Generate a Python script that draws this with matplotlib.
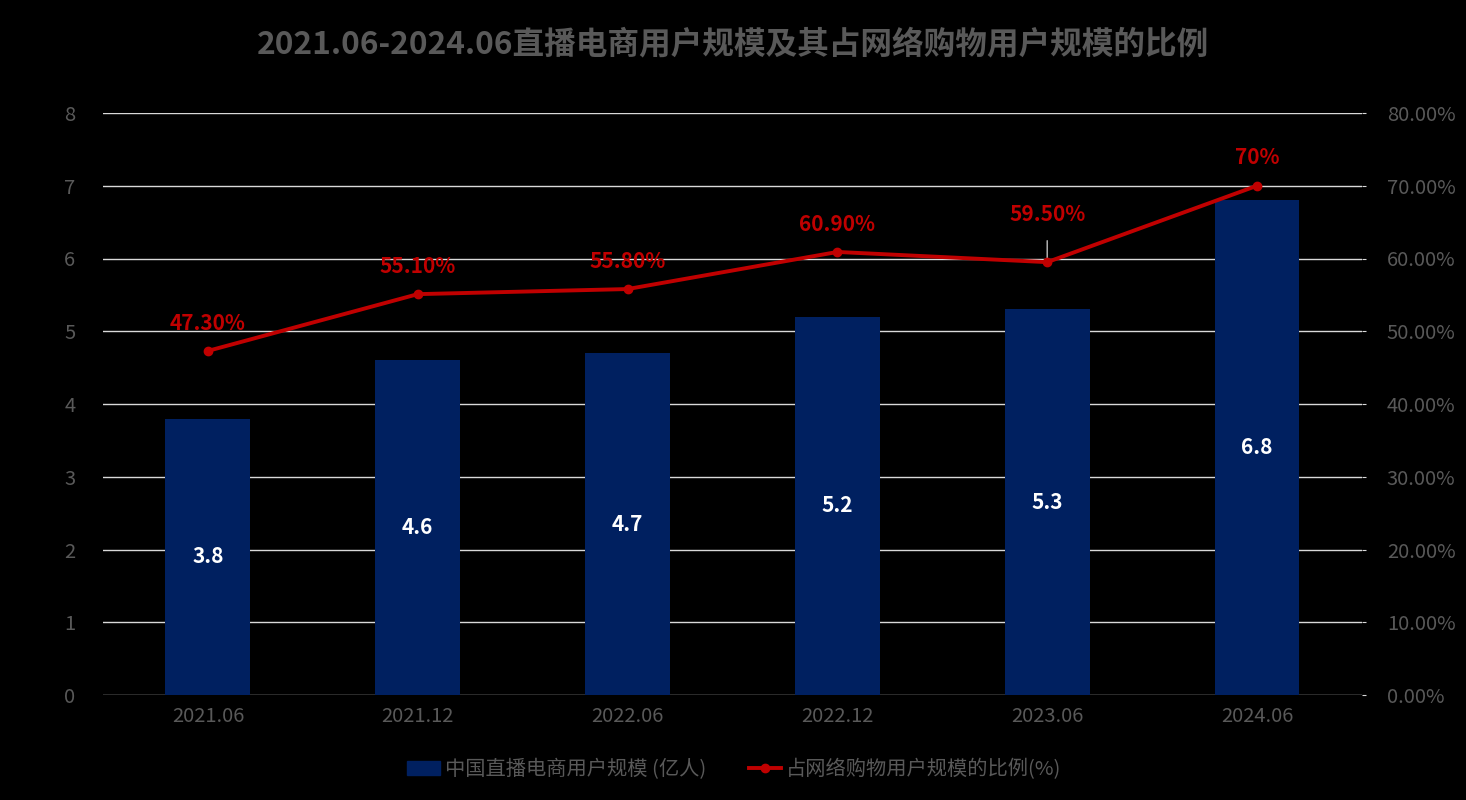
import matplotlib
matplotlib.use("Agg")
import matplotlib.pyplot as plt
from matplotlib.lines import Line2D
from matplotlib.patches import Patch

plt.rcParams['font.family'] = ['Noto Sans CJK SC', 'DejaVu Sans']

categories = ["2021.06", "2021.12", "2022.06", "2022.12", "2023.06", "2024.06"]
users = [3.8, 4.6, 4.7, 5.2, 5.3, 6.8]
ratio = [47.3, 55.1, 55.8, 60.9, 59.5, 70.0]
ratio_labels = ["47.30%", "55.10%", "55.80%", "60.90%", "59.50%", "70%"]
left_ticks = [0, 1, 2, 3, 4, 5, 6, 7, 8]
right_ticks = [0, 10, 20, 30, 40, 50, 60, 70, 80]

title = "2021.06-2024.06直播电商用户规模及其占网络购物用户规模的比例"
bar_name = "中国直播电商用户规模 (亿人)"
line_name = "占网络购物用户规模的比例(%)"

grey = "#595959"
bar_color = "#002060"
red = "#C00000"

fig = plt.figure(figsize=(14.66, 8), dpi=100, facecolor="black")
ax = fig.add_axes([0.0703, 0.13125, 0.929 - 0.0703, 0.85875 - 0.13125])
ax.set_facecolor("black")
x = list(range(len(categories)))
ax.bar(x, users, width=0.405, color=bar_color, zorder=2)
ax.set_xlim(-0.5, len(categories) - 0.5)
ax.set_ylim(0, 8)
ax.set_yticks(left_ticks)
ax.set_yticklabels([str(t) for t in left_ticks])
ax.set_xticks(x)
ax.set_xticklabels(categories)
ax.grid(axis="y", color="#D9D9D9", linewidth=1, zorder=0)
for s in ax.spines.values():
    s.set_visible(False)
ax.tick_params(axis="y", length=0, labelcolor=grey, labelsize=14.5, pad=20)
ax.tick_params(axis="x", length=0, labelcolor=grey, labelsize=14.5, pad=8)

for xi, v in zip(x, users):
    ax.text(xi, v / 2, f"{v}", ha="center", va="center", color="white",
            fontsize=15, fontweight="bold", zorder=4)

ax2 = ax.twinx()
ax2.set_ylim(0, 80)
ax2.set_yticks(right_ticks)
ax2.set_yticklabels([f"{t:.2f}%" for t in right_ticks])
for s in ax2.spines.values():
    s.set_visible(False)
ax2.tick_params(axis="y", length=3, color="#D9D9D9", labelcolor=grey, labelsize=14.5, pad=15)
ax2.plot(x, ratio, color=red, linewidth=2.8, marker="o", markersize=6, zorder=5)

for i, (xi, v, lab) in enumerate(zip(x, ratio, ratio_labels)):
    if i == 4:
        ax2.annotate(lab, xy=(xi, v), xytext=(0, 34), textcoords="offset points",
                     ha="center", va="center", color=red, fontsize=15, fontweight="bold",
                     arrowprops=dict(arrowstyle="-", color="#BFBFBF", lw=1,
                                     shrinkA=9, shrinkB=0))
    else:
        ax2.annotate(lab, xy=(xi, v), xytext=(0, 20), textcoords="offset points",
                     ha="center", va="center", color=red, fontsize=15, fontweight="bold")

fig.text(0.5, 0.945, title, ha="center", va="center", color=grey,
         fontsize=22.8, fontweight="bold")

handles = [Patch(facecolor=bar_color, edgecolor=bar_color),
           Line2D([0], [0], color=red, linewidth=2.8, marker="o", markersize=6)]
leg = fig.legend(handles, [bar_name, line_name], loc="center", bbox_to_anchor=(0.501, 0.038),
                 ncol=2, frameon=False, fontsize=14.6, labelcolor=grey,
                 handlelength=1.6, handletextpad=0.25, columnspacing=2.1)

fig.savefig("out.png", dpi=100, facecolor="black")
